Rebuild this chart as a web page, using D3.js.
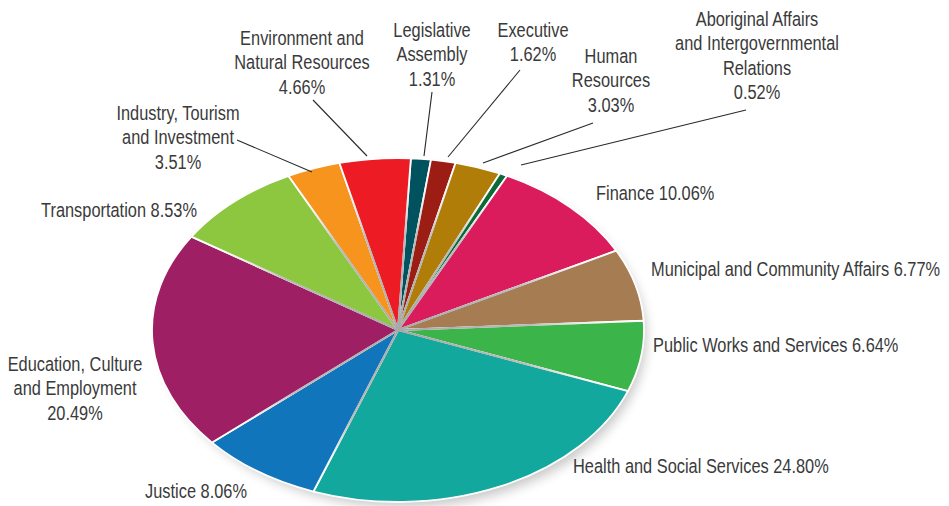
<!DOCTYPE html>
<html>
<head>
<meta charset="utf-8">
<script src="https://cdn.jsdelivr.net/npm/d3@7/dist/d3.min.js"></script>
<style>
  html, body { margin: 0; padding: 0; background: #ffffff; }
  svg { display: block; }
  .lbl { font-family: "Liberation Sans", Arial, sans-serif; font-size: 19.5px; fill: #3a3a3a; }
</style>
</head>
<body>
<svg id="chart" width="949" height="506"></svg>
<script>
// Department shares of spending, clockwise from the top of the pie
const departments = [
  "Legislative Assembly", "Executive", "Human Resources",
  "Aboriginal Affairs and Intergovernmental Relations", "Finance",
  "Municipal and Community Affairs", "Public Works and Services",
  "Health and Social Services", "Justice", "Education, Culture and Employment",
  "Transportation", "Industry, Tourism and Investment",
  "Environment and Natural Resources"
];
const shares = [1.31, 1.62, 3.03, 0.52, 10.06, 6.77, 6.64, 24.80, 8.06, 20.49, 8.53, 3.51, 4.66];
const colors = [
  "#00525f", "#9b1d14", "#b07d08", "#0b6b36", "#da1c5c",
  "#a67c52", "#3bb54a", "#12a89d", "#1175bb", "#9e1f63",
  "#8dc63f", "#f7941d", "#ed1c24"
];
// Label lines per department (same order as above)
const labelLines = [
  ["Legislative", "Assembly", "1.31%"],
  ["Executive", "1.62%"],
  ["Human", "Resources", "3.03%"],
  ["Aboriginal Affairs", "and Intergovernmental", "Relations", "0.52%"],
  ["Finance 10.06%"],
  ["Municipal and Community Affairs 6.77%"],
  ["Public Works and Services 6.64%"],
  ["Health and Social Services 24.80%"],
  ["Justice 8.06%"],
  ["Education, Culture", "and Employment", "20.49%"],
  ["Transportation 8.53%"],
  ["Industry, Tourism", "and Investment", "3.51%"],
  ["Environment and", "Natural Resources", "4.66%"]
];

const svg = d3.select("#chart");
const cx = 398, cy = 330, rx = 246, ry = 172;
const start = 3 * Math.PI / 180;

const defs = svg.append("defs");
const blur = defs.append("filter").attr("id", "soft").attr("x", "-20%").attr("y", "-20%").attr("width", "140%").attr("height", "140%");
blur.append("feGaussianBlur").attr("stdDeviation", 6);

const seam = defs.append("radialGradient")
  .attr("id", "seam").attr("gradientUnits", "userSpaceOnUse")
  .attr("cx", 0).attr("cy", 0).attr("r", rx);
seam.append("stop").attr("offset", "0%").attr("stop-color", "#a8a8a8").attr("stop-opacity", 1);
seam.append("stop").attr("offset", "55%").attr("stop-color", "#b4b4b4").attr("stop-opacity", 0.9);
seam.append("stop").attr("offset", "95%").attr("stop-color", "#ffffff").attr("stop-opacity", 0);

// Drop shadow under the pie
svg.append("ellipse")
  .attr("cx", cx + 6).attr("cy", cy + 7).attr("rx", rx - 4).attr("ry", ry - 2)
  .attr("fill", "#000").attr("opacity", 0.22).attr("filter", "url(#soft)");

const pie = d3.pie().sort(null).value(d => d).startAngle(start).endAngle(start + 2 * Math.PI);
const arcs = pie(shares);
const arc = d3.arc().innerRadius(0).outerRadius(rx);

const g = svg.append("g").attr("transform", `translate(${cx},${cy}) scale(1,${ry / rx})`);

g.selectAll("path.slice")
  .data(arcs)
  .join("path")
  .attr("class", "slice")
  .attr("d", arc)
  .attr("fill", (d, i) => colors[i])
  .attr("stroke", "#ffffff")
  .attr("stroke-width", 1.8)
  .attr("stroke-linejoin", "round")
  .attr("vector-effect", "non-scaling-stroke");

// Grey seams running out from the hub along each slice boundary
g.selectAll("line.seam")
  .data(arcs)
  .join("line")
  .attr("class", "seam")
  .attr("x1", 0).attr("y1", 0)
  .attr("x2", d => Math.sin(d.startAngle) * rx * 0.97)
  .attr("y2", d => -Math.cos(d.startAngle) * rx * 0.97)
  .attr("stroke", "url(#seam)")
  .attr("stroke-width", 2)
  .attr("vector-effect", "non-scaling-stroke");

// Label placement: anchor point, text alignment and optional leader line
const labelPos = [
  { x: 432, y: 37, anchor: "middle", leader: [[432, 92], [424, 156]] },
  { x: 533, y: 37, anchor: "middle", leader: [[520, 70], [448, 157]] },
  { x: 611, y: 63, anchor: "middle", leader: [[593, 123], [483, 163]] },
  { x: 757, y: 26, anchor: "middle", leader: [[746, 110], [521, 165]] },
  { x: 596, y: 200, anchor: "start" },
  { x: 651, y: 276, anchor: "start" },
  { x: 653, y: 352, anchor: "start" },
  { x: 573, y: 473, anchor: "start" },
  { x: 247, y: 498, anchor: "end" },
  { x: 75, y: 371, anchor: "middle" },
  { x: 197, y: 217, anchor: "end" },
  { x: 178, y: 120, anchor: "middle", leader: [[237, 140], [312, 172]] },
  { x: 302, y: 45, anchor: "middle", leader: [[313, 100], [367, 156]] }
];
const lineGap = 24.5;
const narrow = 0.84; // horizontal squeeze for a condensed face

const labels = svg.append("g");
labelPos.forEach((p, i) => {
  const t = labels.append("g")
    .attr("transform", `translate(${p.x},${p.y}) scale(${narrow},1)`)
    .append("text")
    .attr("class", "lbl")
    .attr("text-anchor", p.anchor)
    .attr("x", 0).attr("y", 0);
  labelLines[i].forEach((ln, k) => {
    t.append("tspan").attr("x", 0).attr("dy", k === 0 ? 0 : lineGap).text(ln);
  });
  if (p.leader) {
    labels.append("line")
      .attr("x1", p.leader[0][0]).attr("y1", p.leader[0][1])
      .attr("x2", p.leader[1][0]).attr("y2", p.leader[1][1])
      .attr("stroke", "#2a2a2a").attr("stroke-width", 1.1);
  }
});
</script>
</body>
</html>
